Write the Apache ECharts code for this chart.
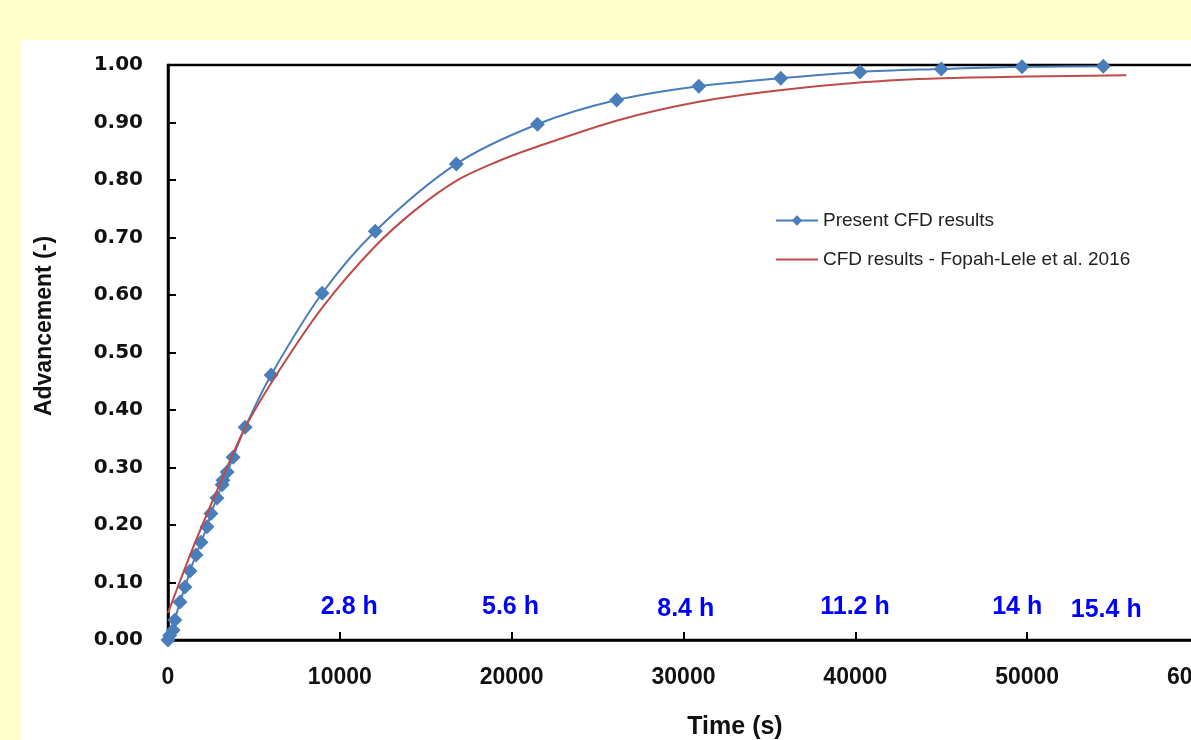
<!DOCTYPE html>
<html>
<head>
<meta charset="utf-8">
<title>Advancement vs time</title>
<script src="https://cdn.jsdelivr.net/npm/echarts@6/dist/echarts.min.js"></script>
<style>
  html, body { margin: 0; padding: 0; width: 1191px; height: 740px; overflow: hidden; background: #FFFFCC; }
  #main { position: absolute; left: 22px; top: 40px; width: 1240px; height: 700px; background: #fff; }
</style>
</head>
<body>
<div id="main"></div>
<script type="text/javascript">
// present CFD results (blue diamonds)
var presentT = [0, 100, 300, 400, 700, 990, 1280, 1630, 1920, 2270, 2500, 2850, 3150, 3200, 3440, 3790,
                4490, 6000, 8970, 12060, 16780, 21500, 26110, 30890, 35660, 40270, 45000, 49700, 54430];
var presentV = [0.000, 0.008, 0.017, 0.035, 0.066, 0.092, 0.120, 0.148, 0.170, 0.197, 0.220, 0.247, 0.270, 0.278, 0.292, 0.318,
                0.370, 0.461, 0.603, 0.711, 0.828, 0.897, 0.939, 0.963, 0.977, 0.988, 0.993, 0.997, 0.998];

// CFD results - Fopah-Lele et al. 2016 (red line)
var fopahT = [0, 1170, 2000, 3000, 4500, 6500, 9000, 12000, 14400, 16800, 19000, 21300, 26200, 30900,
              35600, 40400, 45000, 50000, 55770];
var fopahV = [0.047, 0.139, 0.200, 0.270, 0.370, 0.470, 0.579, 0.683, 0.748, 0.799, 0.830, 0.856, 0.904, 0.936,
              0.956, 0.970, 0.977, 0.980, 0.982];

// hour annotations
var hourText = ['2.8 h', '5.6 h', '8.4 h', '11.2 h', '14 h', '15.4 h'];
var hourT = [10550, 19930, 30130, 39980, 49420, 54600];
var hourV = [0.057, 0.057, 0.054, 0.057, 0.057, 0.052];

var xTicks = { min: 0, max: 60000, interval: 10000 };
var yTicks = { min: 0, max: 1, interval: 0.1 };

function pairs(xs, ys) {
  var out = [];
  for (var i = 0; i < xs.length; i++) out.push([xs[i], ys[i]]);
  return out;
}

var chart = echarts.init(document.getElementById('main'));

var hourData = [];
for (var i = 0; i < hourText.length; i++) {
  hourData.push({ name: hourText[i], value: [hourT[i], hourV[i]] });
}

var option = {
  animation: false,
  backgroundColor: '#fff',
  grid: {
    left: 146, top: 25, right: 63, bottom: 100,
    show: true, borderColor: '#000', borderWidth: 2.5, backgroundColor: 'transparent'
  },
  legend: {
    data: [
      { name: 'Present CFD results' },
      { name: 'CFD results - Fopah-Lele et al. 2016', icon: 'path://M0 0H100V5H0Z' }
    ],
    orient: 'vertical',
    left: 748, top: 166,
    itemWidth: 42, itemHeight: 13, itemGap: 20,
    textStyle: { fontFamily: 'Liberation Sans', fontSize: 19, color: '#222' }
  },
  xAxis: {
    type: 'value',
    min: xTicks.min, max: xTicks.max, interval: xTicks.interval,
    axisLine: { lineStyle: { color: '#000', width: 2.5 } },
    axisTick: { inside: true, length: 8, lineStyle: { color: '#000', width: 2 } },
    axisLabel: {
      margin: 26, color: '#111', fontFamily: 'Liberation Sans', fontWeight: 'bold', fontSize: 23,
      formatter: function (v) { return String(v); }
    },
    splitLine: { show: false }
  },
  yAxis: {
    type: 'value',
    min: yTicks.min, max: yTicks.max, interval: yTicks.interval,
    axisLine: { show: true, lineStyle: { color: '#000', width: 2.5 } },
    axisTick: { show: true, inside: true, length: 8, lineStyle: { color: '#000', width: 2 } },
    axisLabel: {
      margin: 25, color: '#111', fontFamily: 'DejaVu Sans', fontWeight: 'bold', fontSize: 20,
      formatter: function (v) { return v.toFixed(2); }
    },
    splitLine: { show: false }
  },
  graphic: [
    {
      type: 'text', x: 23, y: 286, rotation: Math.PI / 2,
      style: { text: 'Advancement (-)', fontFamily: 'Liberation Sans', fontWeight: 'bold', fontSize: 23,
               fill: '#111', textAlign: 'center', textVerticalAlign: 'middle' }
    },
    {
      type: 'text', x: 713, y: 687,
      style: { text: 'Time (s)', fontFamily: 'Liberation Sans', fontWeight: 'bold', fontSize: 25,
               fill: '#111', textAlign: 'center', textVerticalAlign: 'middle' }
    }
  ],
  series: [
    {
      name: 'Present CFD results',
      type: 'line',
      smooth: 0.3,
      data: pairs(presentT, presentV),
      symbol: 'diamond',
      symbolSize: 15,
      itemStyle: { color: '#4A7EBB' },
      lineStyle: { color: '#4A7EBB', width: 2 },
      z: 2
    },
    {
      name: 'CFD results - Fopah-Lele et al. 2016',
      type: 'line',
      smooth: 0.3,
      symbol: 'none',
      data: pairs(fopahT, fopahV),
      itemStyle: { color: '#BE4B48' },
      lineStyle: { color: '#BE4B48', width: 2 },
      z: 3
    },
    {
      name: 'hours',
      type: 'scatter',
      silent: true,
      symbolSize: 1,
      itemStyle: { color: 'rgba(0,0,0,0)', opacity: 1 },
      data: hourData,
      label: {
        show: true, position: 'inside',
        formatter: function (p) { return p.name; },
        color: '#0000FF', textBorderWidth: 0, textBorderColor: 'transparent',
        fontFamily: 'Liberation Sans', fontWeight: 'bold', fontSize: 25
      },
      z: 4
    }
  ]
};

chart.setOption(option);
</script>
</body>
</html>
